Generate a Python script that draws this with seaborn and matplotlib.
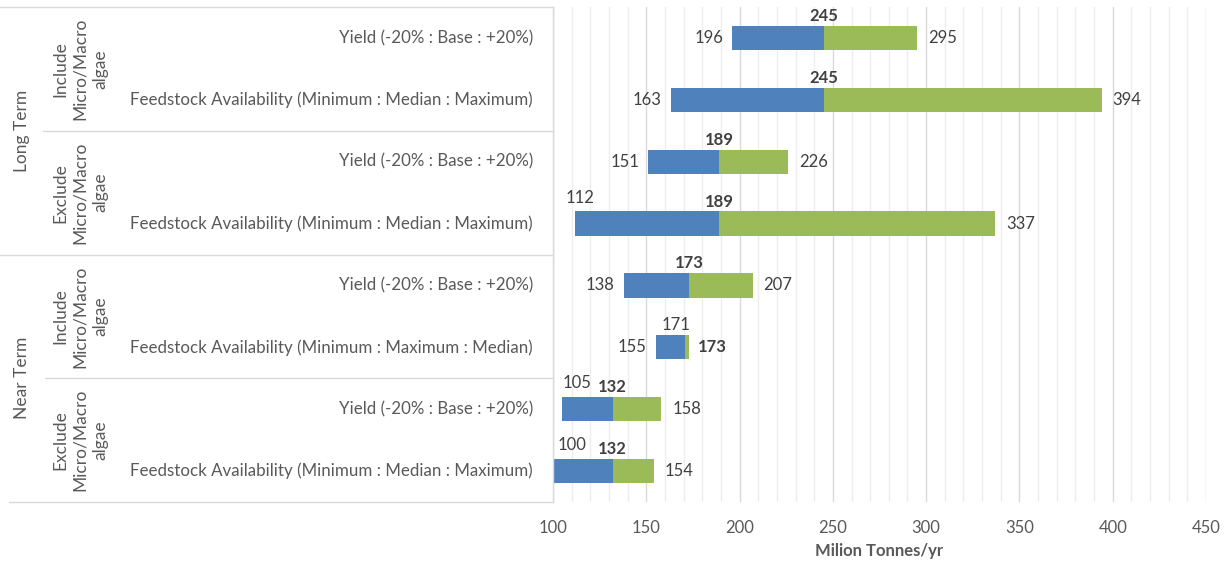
"""
Sensitivity ranges of potential production (tornado style floating bars).
"""

import matplotlib
matplotlib.use('Agg')
import matplotlib.pyplot as plt
import matplotlib.transforms as mtransforms
from matplotlib.lines import Line2D
from matplotlib.ticker import MultipleLocator
import seaborn as sns
import pandas as pd

# Data, top row first
terms = ['Long Term', 'Near Term']
algae_groups = ['Include\nMicro/Macro\nalgae', 'Exclude\nMicro/Macro\nalgae']
row_labels = [
    'Yield (-20% : Base : +20%)',
    'Feedstock Availability (Minimum : Median : Maximum)',
    'Yield (-20% : Base : +20%)',
    'Feedstock Availability (Minimum : Median : Maximum)',
    'Yield (-20% : Base : +20%)',
    'Feedstock Availability (Minimum : Maximum : Median)',
    'Yield (-20% : Base : +20%)',
    'Feedstock Availability (Minimum : Median : Maximum)',
]
low_values = [196, 163, 151, 112, 138, 155, 105, 100]
mid_values = [245, 245, 189, 189, 173, 171, 132, 132]
high_values = [295, 394, 226, 337, 207, 173, 158, 154]

BLUE = '#4F81BD'
GREEN = '#9BBB59'
TEXT = '#404040'
LABEL = '#595959'

sns.set_theme(style='white')
plt.rcParams['font.family'] = ['Lato', 'DejaVu Sans']

df = pd.DataFrame({
    'row': [f'r{i}' for i in range(len(row_labels))],
    'low': low_values,
    'mid': mid_values,
    'high': high_values,
})
df['lower_span'] = df['mid'] - df['low']
df['upper_span'] = df['high'] - df['mid']

fig = plt.figure(figsize=(12.25, 5.63), dpi=100)
ax = fig.add_axes([553 / 1225, 1 - 502 / 563, (1206 - 553) / 1225, (502 - 7) / 563])

# Floating bars: draw the spans with seaborn, then shift each to its start value
sns.barplot(data=df, x='lower_span', y='row', color=BLUE, width=0.39,
            saturation=1, ax=ax, orient='h')
n_lower = len(ax.patches)
sns.barplot(data=df, x='upper_span', y='row', color=GREEN, width=0.39,
            saturation=1, ax=ax, orient='h')
for patch, start in zip(ax.patches[:n_lower], df['low']):
    patch.set_x(start)
for patch, start in zip(ax.patches[n_lower:], df['mid']):
    patch.set_x(start)
for patch in ax.patches:
    patch.set_linewidth(0)

ax.set_xlim(100, 450)
ax.set_ylim(len(row_labels) - 0.5, -0.5)
ax.xaxis.set_major_locator(MultipleLocator(50))
ax.xaxis.set_minor_locator(MultipleLocator(10))
ax.grid(axis='x', which='major', color='#d9d9d9', linewidth=1.0, zorder=0)
ax.grid(axis='x', which='minor', color='#eeeeee', linewidth=1.0, zorder=0)
ax.set_axisbelow(True)
for side in ['top', 'right', 'bottom']:
    ax.spines[side].set_visible(False)
ax.spines['left'].set_color('#d9d9d9')
ax.spines['left'].set_linewidth(1.0)
ax.set_yticks([])
ax.set_ylabel('')
ax.tick_params(axis='x', which='both', length=0, pad=13, labelsize=12, labelcolor=LABEL)
ax.set_xlabel('Milion Tonnes/yr', fontsize=12, fontweight='bold', color=LABEL, labelpad=5)

# Value labels
off = dict(textcoords='offset pixels', fontsize=12, color=TEXT)
for i, (lo, mid, hi) in enumerate(zip(low_values, mid_values, high_values)):
    if i == 5:
        # median sits past the maximum in this row
        ax.annotate(f'{lo}', (lo, i), xytext=(-9, 0), ha='right', va='center', **off)
        ax.annotate(f'{mid}', (mid, i), xytext=(-9, 22), ha='center', va='center', **off)
        ax.annotate(f'{hi}', (hi, i), xytext=(9, 0), ha='left', va='center',
                    fontweight='bold', **off)
        continue
    if i in (3, 6, 7):
        shift = {3: 5, 6: 15, 7: 19}[i]
        ax.annotate(f'{lo}', (lo, i), xytext=(shift, 26), ha='center', va='center', **off)
    else:
        ax.annotate(f'{lo}', (lo, i), xytext=(-9, 0), ha='right', va='center', **off)
    ax.annotate(f'{mid}', (mid, i), xytext=(0, 22), ha='center', va='center',
                fontweight='bold', **off)
    ax.annotate(f'{hi}', (hi, i), xytext=(11, 0), ha='left', va='center', **off)

# Multi-level category labels to the left of the axes
fig_tr = fig.transFigure
blend = mtransforms.blended_transform_factory(fig_tr, ax.transData)
for i, label in enumerate(row_labels):
    fig.text(533 / 1225, 0, label, transform=blend, ha='right', va='center',
             fontsize=12.2, color=LABEL).set_y(i)
for g, name in enumerate(algae_groups * 2):
    fig.text(80 / 1225, 0, name, transform=blend, ha='center', va='center',
             rotation=90, fontsize=12.5, color=LABEL, linespacing=1.3).set_y(2 * g + 0.5)
for t, name in enumerate(terms):
    fig.text(22 / 1225, 0, name, transform=blend, ha='center', va='center',
             rotation=90, fontsize=12.5, color=LABEL).set_y(4 * t + 1.5)

# Separator lines between category groups
for y_sep, x_start in [(-0.5, 0), (1.5, 43), (3.5, 0), (5.5, 45), (7.5, 9)]:
    fig.add_artist(Line2D([x_start / 1225, 553 / 1225], [y_sep, y_sep],
                          transform=blend, color='#d9d9d9', linewidth=1.0))

fig.savefig('out.png', dpi=100)
